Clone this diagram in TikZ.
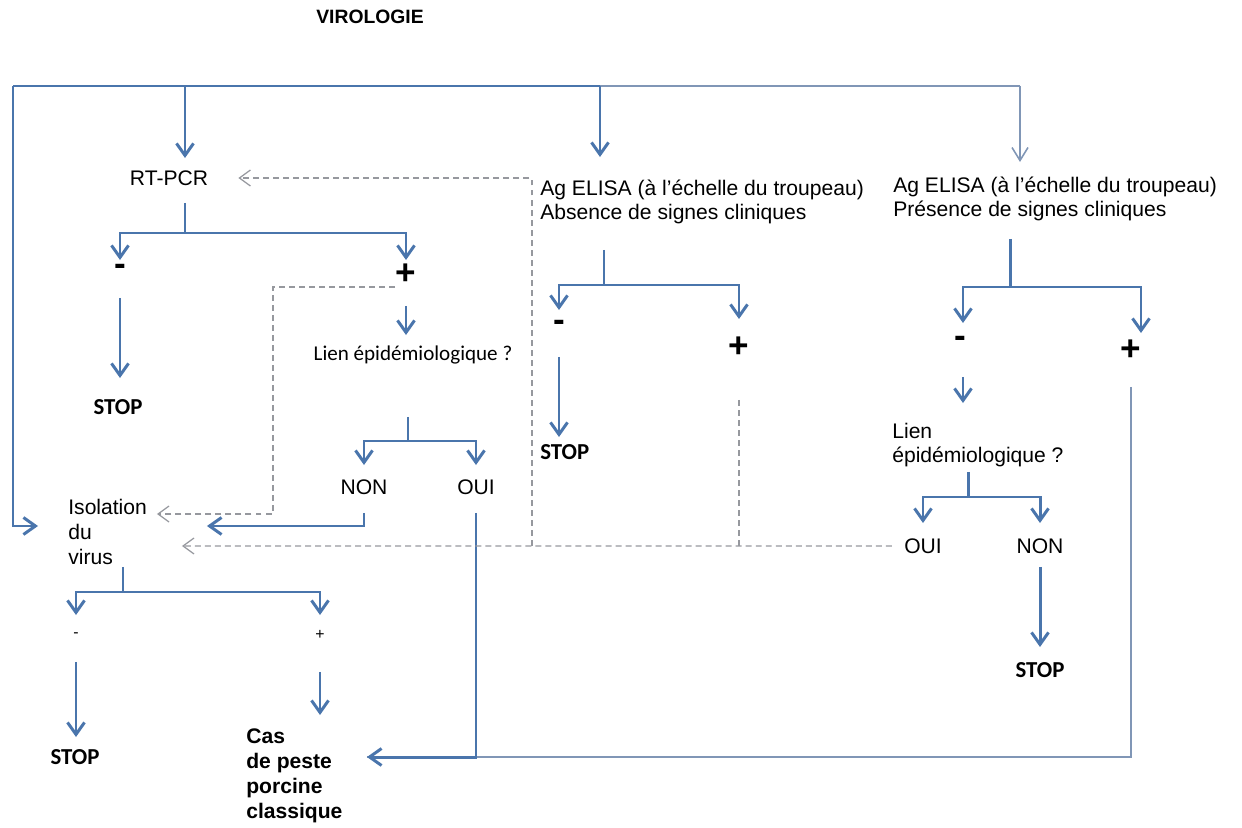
\documentclass[tikz,border=0pt]{standalone}
\usepackage{fontspec}
\setmainfont{Liberation Sans}
\newfontfamily\calibrifont{Carlito}
\usetikzlibrary{arrows.meta}

\definecolor{linkblue}{RGB}{74,117,172}
\definecolor{paleblue}{RGB}{128,150,182}
\definecolor{hintgray}{RGB}{150,152,158}

\begin{document}
\begin{tikzpicture}[x=0.02cm, y=-0.02cm]
    % Define styles
    \tikzset{
        headtext/.style={font=\bfseries\fontsize{11}{13}\selectfont, inner sep=0pt},
        bodytext/.style={font=\fontsize{12}{13.6}\selectfont, inner sep=0pt, align=left},
        calibritext/.style={font=\calibrifont\fontsize{12}{14}\selectfont, inner sep=0pt},
        stoptext/.style={font=\calibrifont\bfseries\fontsize{13}{15}\selectfont, inner sep=0pt},
        casetext/.style={font=\bfseries\fontsize{12}{14.2}\selectfont, inner sep=0pt, align=left},
        bigsign/.style={font=\bfseries\fontsize{20}{20}\selectfont, inner sep=0pt},
        smallsign/.style={font=\fontsize{9}{9}\selectfont, inner sep=0pt},
        trunk/.style={linkblue, line width=1.7pt},
        flowline/.style={trunk, -{Straight Barb[length=2.4mm, width=3.4mm]}},
        thinline/.style={paleblue, line width=0.9pt},
        thinflow/.style={thinline, -{Straight Barb[length=2.6mm, width=3.2mm]}},
        hint/.style={hintgray, line width=0.7pt, dash pattern=on 3.4pt off 2.3pt},
        hintflow/.style={hint, -{Straight Barb[length=2.2mm, width=3.2mm]}}
    }
    \useasboundingbox (0,0) rectangle (1242,828);

    % Title
    \node[headtext] (title) at (370,17) {VIROLOGIE};

    % Tests
    \node[bodytext] (rtpcr) at (169,178) {RT-PCR};
    \node[bodytext, anchor=west] (elisaA) at (540,202) {Ag ELISA (à l’échelle du troupeau)\\Absence de signes cliniques};
    \node[bodytext, anchor=west] (elisaP) at (893,199) {Ag ELISA (à l'échelle du troupeau)\\Présence de signes cliniques};

    % RT-PCR results
    \node[bigsign] (rtneg) at (120,270) {-};
    \node[bigsign] (rtpos) at (406,274) {+};
    \node[stoptext] (stopA) at (118,407) {STOP};
    \node[calibritext] (lienA) at (413,355) {Lien épidémiologique ?};
    \node[bodytext] (nonA) at (364,487) {NON};
    \node[bodytext] (ouiA) at (476,487) {OUI};

    % Isolation du virus
    \node[bodytext, anchor=west, font=\fontsize{12}{14.2}\selectfont] (isol) at (68,532) {Isolation\\du\\virus};
    \node[smallsign] (isneg) at (76,635) {-};
    \node[smallsign] (ispos) at (320,635) {+};
    \node[stoptext] (stopB) at (75,757) {STOP};
    \node[casetext, anchor=west] (cas) at (246,776) {Cas\\de peste\\porcine\\classique};

    % ELISA without clinical signs
    \node[bigsign] (elAneg) at (559,326) {-};
    \node[bigsign] (elApos) at (739,347) {+};
    \node[stoptext, anchor=west] (stopC) at (540,452) {STOP};

    % ELISA with clinical signs
    \node[bigsign] (elPneg) at (960,342) {-};
    \node[bigsign] (elPpos) at (1131,350) {+};
    \node[bodytext, anchor=west] (lienB) at (892,445) {Lien\\épidémiologique ?};
    \node[bodytext] (ouiB) at (923,546) {OUI};
    \node[bodytext] (nonB) at (1040,546) {NON};
    \node[stoptext] (stopD) at (1040,670) {STOP};

    % Top distribution line
    \coordinate (topL) at (13,86);
    \coordinate (topA) at (185,86);
    \coordinate (topB) at (600,86);
    \coordinate (topC) at (1020,86);
    \draw[thinline] (topB) -- (topC);
    \draw[trunk] (topB) -- (topL);
    \draw[flowline] (topL) |- ([xshift=-0.6cm, yshift=0.12cm]isol.west);
    \draw[flowline, shorten >=0.4cm] (topA) -- (topA |- rtpcr.center);
    \draw[flowline, shorten >=0.9cm] (topB) -- (topB |- elisaA.center);
    \draw[thinflow, shorten >=0.74cm] (topC) -- (topC |- elisaP.center);

    % RT-PCR branches
    \coordinate (rtfork) at (185,233);
    \draw[trunk, shorten <=0.5cm] (rtfork |- rtpcr.center) -- (rtfork);
    \draw[flowline, shorten >=0.2cm] (rtfork) -| (rtneg.center);
    \draw[flowline, shorten >=0.28cm] (rtfork) -| (rtpos.center);
    \draw[flowline, shorten <=0.56cm, shorten >=0.58cm] (rtneg.center) -- (rtneg.center |- stopA.center);
    \draw[flowline, shorten <=0.64cm, shorten >=0.4cm] (rtpos.center) -- (rtpos.center |- lienA.center);
    \coordinate (lienAfork) at (408,441);
    \draw[trunk, shorten <=1.24cm] (lienAfork |- lienA.center) -- (lienAfork);
    \draw[flowline, shorten >=0.44cm] (lienAfork) -| (nonA.center);
    \draw[flowline, shorten >=0.44cm] (lienAfork) -| (ouiA.center);
    \draw[flowline, shorten <=0.52cm] (nonA.center) |- ([xshift=2.78cm, yshift=0.12cm]isol.west);

    % Isolation branches
    \coordinate (isfork) at (123,592);
    \draw[trunk, shorten <=0.7cm] (isfork |- isol.center) -- (isfork);
    \draw[flowline, shorten >=0.4cm] (isfork) -| (isneg.center);
    \draw[flowline, shorten >=0.4cm] (isfork) -| (ispos.center);
    \draw[flowline, shorten <=0.54cm, shorten >=0.4cm] (isneg.center) -- (isneg.center |- stopB.center);
    \coordinate (casin) at ([xshift=2.42cm, yshift=0.38cm]cas.west);
    \draw[flowline, shorten <=0.74cm, shorten >=0.84cm] (ispos.center) -- (ispos.center |- casin);

    % ELISA without clinical signs branches
    \coordinate (elAfork) at (604,285);
    \draw[trunk, shorten <=0.96cm] (elAfork |- elisaA.center) -- (elAfork);
    \draw[flowline, shorten >=0.32cm] (elAfork) -| (elAneg.center);
    \draw[flowline, shorten >=0.56cm] (elAfork) -| (elApos.center);
    \draw[flowline, shorten <=0.62cm, shorten >=0.3cm] (elAneg.center) -- (elAneg.center |- stopC.center);

    % ELISA with clinical signs branches
    \coordinate (elPfork) at (1010,287);
    \draw[trunk, shorten <=0.8cm] (elPfork |- elisaP.center) -- (elPfork);
    \draw[flowline, shorten >=0.38cm] (elPfork) -| ([xshift=0.06cm]elPneg.center);
    \draw[flowline, shorten >=0.34cm] (elPfork) -| ([xshift=0.2cm]elPpos.center);
    \draw[flowline, shorten <=0.7cm, shorten >=0.84cm] ([xshift=0.06cm]elPneg.center) -- ([xshift=0.06cm]elPneg.center |- lienB.center);
    \coordinate (lienBfork) at (968,497);
    \draw[trunk, shorten <=0.54cm] (lienBfork |- lienB.center) -- (lienBfork);
    \draw[flowline, shorten >=0.46cm] (lienBfork) -| (ouiB.center);
    \draw[flowline, shorten >=0.46cm] (lienBfork) -| (nonB.center);
    \draw[flowline, shorten <=0.42cm, shorten >=0.46cm] (nonB.center) -- (nonB.center |- stopD.center);

    % Confirmed cases
    \draw[thinline, shorten <=0.74cm] (elPpos.center) |- (casin);
    \draw[flowline, shorten <=0.52cm] (ouiA.center) |- (casin);

    % Dashed hints
    \coordinate (hintup) at (532,546);
    \draw[hintflow] ([xshift=-0.22cm, yshift=-0.26cm]rtpos.center) -- ++(-122,0) |- ([xshift=1.78cm, yshift=0.36cm]isol.west);
    \draw[hintflow] ([xshift=-0.24cm]ouiB.west) -- ([xshift=2.28cm, yshift=-0.28cm]isol.west);
    \draw[hintflow] (hintup) |- ([xshift=0.6cm]rtpcr.east);
    \draw[hint, shorten <=1.06cm] (elApos.center) -- (elApos.center |- ouiB.center);

\end{tikzpicture}
\end{document}
